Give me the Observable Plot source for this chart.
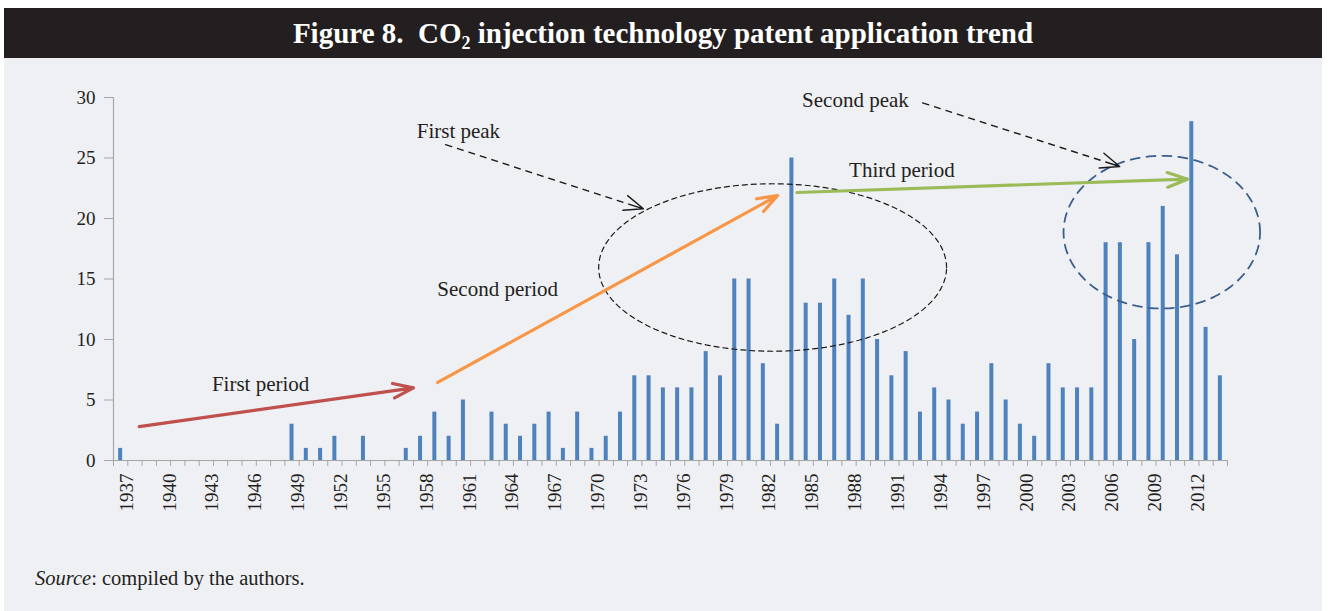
<!DOCTYPE html>
<html>
<head>
<meta charset="utf-8">
<script src="https://cdn.jsdelivr.net/npm/d3@7"></script>
<script src="https://cdn.jsdelivr.net/npm/@observablehq/plot@0.6"></script>
<style>
  html, body { margin: 0; padding: 0; background: #ffffff; }
  #wrap { position: absolute; left: 4px; top: 8px; width: 1318px; height: 603px; font-family: "Liberation Serif", "DejaVu Serif", serif; }
  #title { height: 50px; background: #231f20; color: #ffffff; font-weight: bold; font-size: 29px; line-height: 50px; text-align: center; }
  #title sub { font-size: 18px; vertical-align: -6px; line-height: 0; }
  #panel { height: 553px; background: #eff0f4; position: relative; }
  #caption { position: absolute; left: 31px; top: 509px; font-size: 20.5px; color: #231f20; }
</style>
</head>
<body>
<div id="wrap">
  <div id="title">Figure 8.&nbsp; CO<sub>2</sub> injection technology patent application trend</div>
  <div id="panel">
    <div id="chart"></div>
    <div id="caption"><i>Source</i>: compiled by the authors.</div>
  </div>
</div>
<script>
// Categories (application years)
const years = [1937,1938,1939,1940,1941,1942,1943,1944,1945,1946,1947,1948,1949,1950,1951,1952,1953,1954,1955,1956,
  1957,1958,1959,1960,1961,1962,1963,1964,1965,1966,1967,1968,1969,1970,1971,1972,1973,1974,1975,1976,
  1977,1978,1979,1980,1981,1982,1983,1984,1985,1986,1987,1988,1989,1990,1991,1992,1993,1994,1995,1996,
  1997,1998,1999,2000,2001,2002,2003,2004,2005,2006,2007,2008,2009,2010,2011,2012,2013,2014];
// Patent applications per year
const counts = [1,0,0,0,0,0,0,0,0,0,0,0,3,1,1,2,0,2,0,0,
  1,2,4,2,5,0,4,3,2,3,4,1,4,1,2,4,7,7,6,6,
  6,9,7,15,15,8,3,25,13,13,15,12,15,10,7,9,4,6,5,3,
  4,8,5,3,2,8,6,6,6,18,18,10,18,21,17,28,11,7];
// Tick labels
const xTickLabels = [1937,1940,1943,1946,1949,1952,1955,1958,1961,1964,1967,1970,1973,1976,1979,1982,1985,1988,1991,1994,1997,2000,2003,2006,2009,2012];
const yTicks = [0,5,10,15,20,25,30];

// Annotations (in data units: year, count)
const periodArrows = [
  {x1: 1938.3, y1: 2.8, x2: 1957.5, y2: 6.0, color: "#c0504d"},
  {x1: 1959.2, y1: 6.45, x2: 1983.0, y2: 21.9, color: "#f79646"},
  {x1: 1984.35, y1: 22.15, x2: 2011.7, y2: 23.25, color: "#9bbb59"}
];
const peakArrows = [
  {x1: 1959.75, y1: 26.1, x2: 1973.6, y2: 20.8},
  {x1: 1993.15, y1: 29.55, x2: 2006.95, y2: 24.3}
];
const annotationLabels = [
  {x: 1946.8, y: 6.3, text: "First period"},
  {x: 1963.4, y: 14.15, text: "Second period"},
  {x: 1991.7, y: 24.0, text: "Third period"},
  {x: 1960.65, y: 27.25, text: "First peak"},
  {x: 1988.45, y: 29.75, text: "Second peak"}
];
const peakEllipses = [
  {cx: 1982.65, cy: 15.95, rx: 12.18, ry: 6.92, color: "#1a1a1a", width: 1.2, dash: "5,4"},
  {cx: 2009.9, cy: 18.87, rx: 6.88, ry: 6.31, color: "#3a5f8c", width: 1.8, dash: "9,7"}
];

const data = years.map((year, i) => ({year, count: counts[i]}));
const boundaries = years.map(y => y - 0.5).concat([years[years.length - 1] + 0.5]);

function ellipsePoints(e, id) {
  const pts = [];
  for (let k = 0; k < 144; k++) {
    const t = (k / 144) * 2 * Math.PI;
    pts.push({x: e.cx + e.rx * Math.cos(t), y: e.cy + e.ry * Math.sin(t), id});
  }
  return pts;
}

const marks = [
  Plot.ruleX([boundaries[0]], {stroke: "#a6a6a6", strokeWidth: 1.2}),
  Plot.ruleY([0], {stroke: "#a6a6a6", strokeWidth: 1.2}),
  Plot.axisY({ticks: yTicks, tickSize: 9, tickPadding: 9, fontSize: 19, label: null, stroke: "#a6a6a6", fill: "#231f20", tickFormat: d => String(d)}),
  Plot.axisX({ticks: boundaries, tickSize: 6, tickFormat: () => "", label: null, stroke: "#a6a6a6"}),
  Plot.axisX({ticks: xTickLabels, tickSize: 0, tickPadding: 13, tickRotate: -90, fontSize: 19, label: null, fill: "#231f20", dx: 6, tickFormat: d => String(d)}),
  Plot.rectY(data.filter(d => d.count > 0), {x1: d => d.year - 0.14, x2: d => d.year + 0.14, y: "count", fill: "#4f81bd"})
];
peakEllipses.forEach((e, i) => {
  marks.push(Plot.line(ellipsePoints(e, i), {x: "x", y: "y", curve: "linear-closed", stroke: e.color, strokeWidth: e.width, strokeDasharray: e.dash}));
});
// Black peak arrows: solid arrow, then background-coloured gaps to make the shaft dashed
marks.push(Plot.arrow(peakArrows, {x1: "x1", y1: "y1", x2: "x2", y2: "y2", stroke: "#1a1a1a", strokeWidth: 1.4, headLength: 22, headAngle: 44}));
marks.push(Plot.link(peakArrows, {x1: "x1", y1: "y1", x2: d => d.x1 + 0.93 * (d.x2 - d.x1), y2: d => d.y1 + 0.93 * (d.y2 - d.y1), stroke: "#eff0f4", strokeWidth: 3, strokeDasharray: "0,7,5,0"}));
// Coloured period arrows
periodArrows.forEach(a => {
  marks.push(Plot.arrow([a], {x1: "x1", y1: "y1", x2: "x2", y2: "y2", stroke: a.color, strokeWidth: 3.2, headLength: 10, headAngle: 40}));
});
marks.push(Plot.text(annotationLabels, {x: "x", y: "y", text: "text", fontSize: 21, fill: "#231f20"}));

const chart = Plot.plot({
  width: 1318,
  height: 480,
  marginTop: 39,
  marginBottom: 78,
  marginLeft: 109,
  marginRight: 95,
  x: {type: "linear", domain: [boundaries[0], boundaries[boundaries.length - 1]]},
  y: {domain: [0, 30]},
  style: {background: "transparent", fontFamily: "'Liberation Serif', 'DejaVu Serif', serif", fontSize: "19px", color: "#231f20", overflow: "visible"},
  marks
});
document.getElementById("chart").appendChild(chart);
</script>
</body>
</html>
